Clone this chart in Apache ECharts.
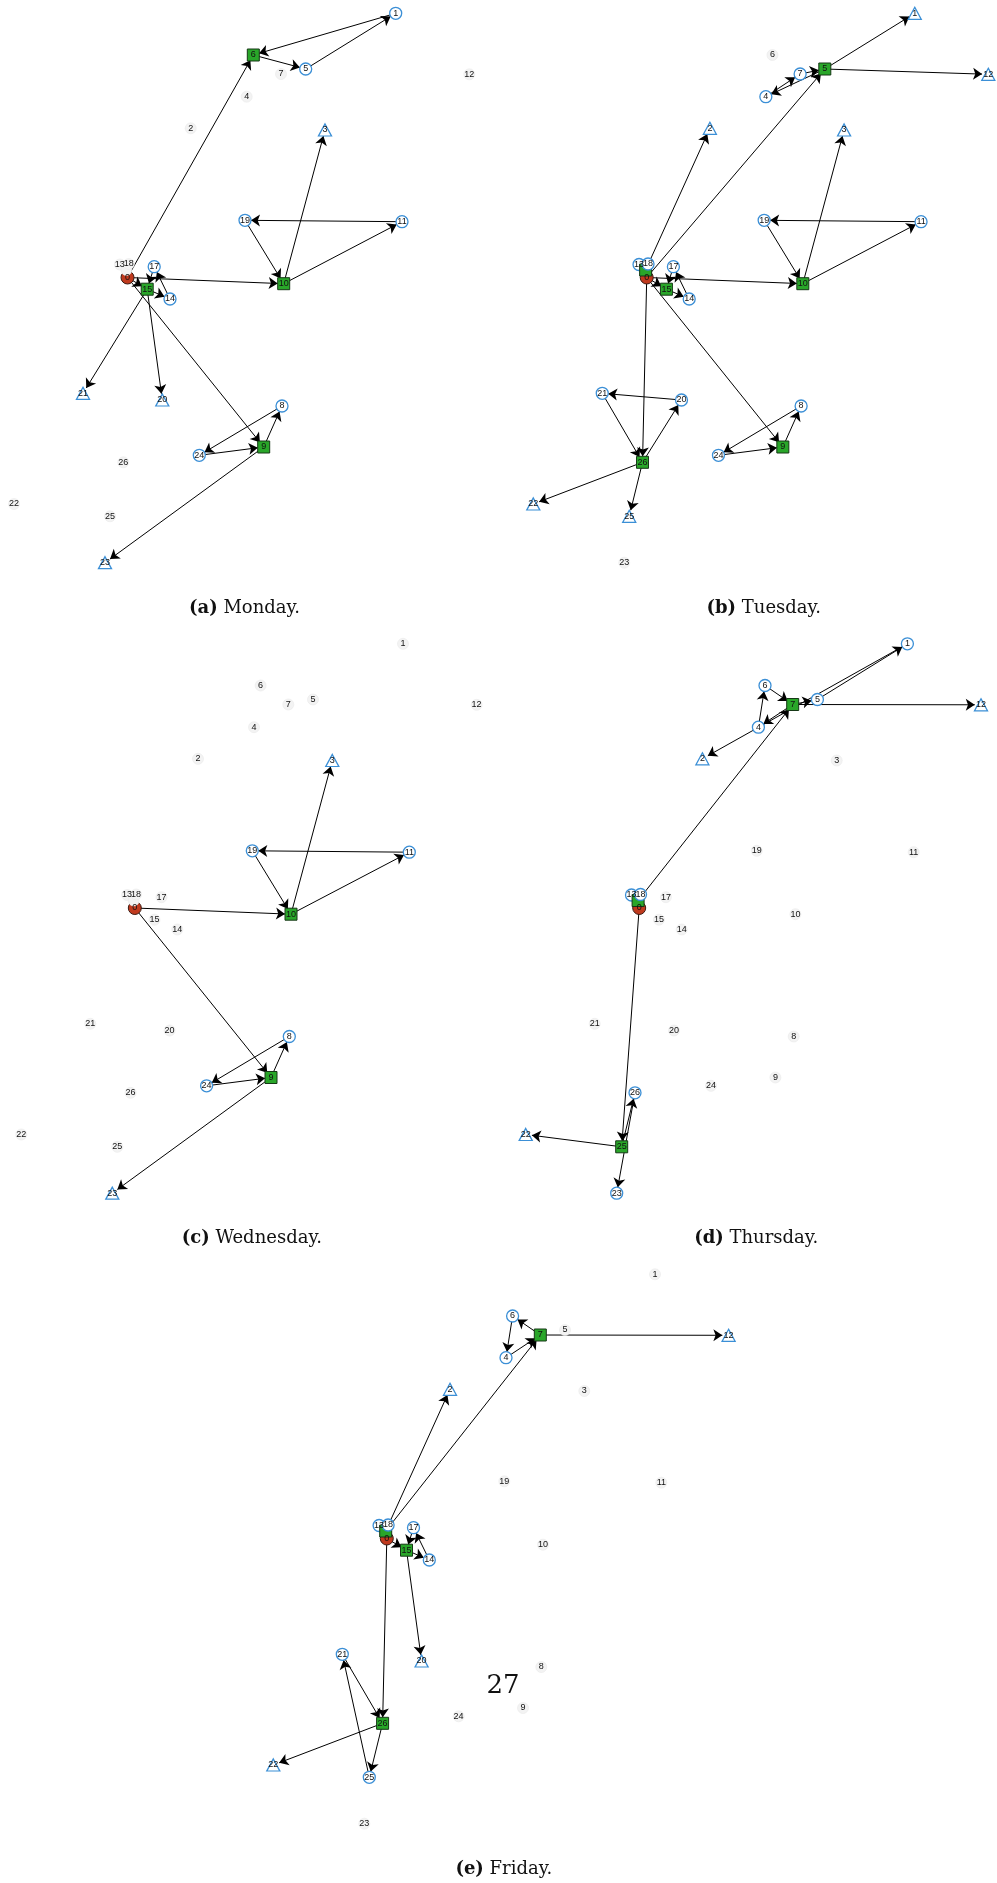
<!DOCTYPE html>
<html>
<head>
<meta charset="utf-8">
<script src="https://cdn.jsdelivr.net/npm/echarts@6/dist/echarts.min.js"></script>
<style>
  html, body { margin: 0; padding: 0; background: #ffffff; }
  #chart { width: 997px; height: 1883px; }
</style>
</head>
<body>
<div id="chart"></div>
<script>
// Shared node layout (same positions on every day), layout units
const nodeNames = ['0','1','2','3','4','5','6','7','8','9','10','11','12','13',
  '14','15','16','17','18','19','20','21','22','23','24','25','26'];
const nodeX = [127.5, 395.7, 190.7, 325.0, 246.7, 305.7, 253.3, 281.0, 282.0, 263.7,
  283.7, 402.0, 469.3, 119.8, 170.0, 147.2, 126.4, 154.2, 128.8, 245.0,
  162.3, 83.0, 14.0, 105.0, 199.3, 110.0, 123.3];
const nodeY = [277.5, 13.3, 128.3, 130.0, 96.7, 69.0, 55.0, 74.0, 406.0, 447.0,
  283.7, 221.7, 74.3, 264.5, 299.0, 289.2, 270.0, 266.7, 264.0, 220.3,
  400.0, 393.3, 504.0, 562.7, 455.3, 516.3, 462.3];

// Node 16 sits underneath nodes 0 and 18, so its number is never readable
const hiddenLabelNodes = [16];

// Days and their sub-figure tags
const dayNames = ['Monday', 'Tuesday', 'Wednesday', 'Thursday', 'Friday'];
const dayTags = ['(a)', '(b)', '(c)', '(d)', '(e)'];

// Node 0 is the central hub on every day
const hubNode = 0;

// Monday
const mondayDepots = [6, 9, 10, 15];
const mondayCustomers = [1, 5, 8, 11, 14, 17, 19, 24];
const mondayTerminals = [3, 20, 21, 23];
const mondayLinks = [[0, 6], [6, 5], [5, 1], [1, 6], [0, 10], [10, 3], [10, 11], [11, 19],
  [19, 10], [0, 15], [17, 15], [15, 14], [14, 17], [15, 21], [15, 20], [0, 9], [9, 8],
  [8, 24], [24, 9], [9, 23]];

// Tuesday
const tuesdayDepots = [5, 9, 10, 15, 16, 26];
const tuesdayCustomers = [4, 7, 8, 11, 13, 14, 17, 18, 19, 20, 21, 24];
const tuesdayTerminals = [1, 2, 3, 12, 22, 25];
const tuesdayLinks = [[16, 2], [0, 5], [5, 1], [5, 12], [5, 4], [4, 7], [7, 5], [0, 10],
  [10, 3], [10, 11], [11, 19], [19, 10], [0, 15], [17, 15], [15, 14], [14, 17], [0, 26],
  [26, 20], [20, 21], [21, 26], [26, 22], [26, 25], [0, 9], [9, 8], [8, 24], [24, 9]];

// Wednesday
const wednesdayDepots = [9, 10];
const wednesdayCustomers = [8, 11, 19, 24];
const wednesdayTerminals = [3, 23];
const wednesdayLinks = [[0, 10], [10, 3], [10, 11], [11, 19], [19, 10], [0, 9], [9, 8],
  [8, 24], [24, 9], [9, 23]];

// Thursday
const thursdayDepots = [7, 16, 25];
const thursdayCustomers = [1, 4, 5, 6, 13, 18, 23, 26];
const thursdayTerminals = [2, 12, 22];
const thursdayLinks = [[16, 7], [7, 5], [5, 1], [1, 2], [7, 4], [4, 6], [6, 7], [7, 12],
  [0, 25], [25, 26], [26, 23], [25, 22]];

// Friday
const fridayDepots = [7, 15, 16, 26];
const fridayCustomers = [4, 6, 13, 14, 17, 18, 21, 25];
const fridayTerminals = [2, 12, 20, 22];
const fridayLinks = [[16, 2], [16, 7], [7, 6], [6, 4], [4, 7], [7, 12], [0, 15], [17, 15],
  [15, 14], [14, 17], [15, 20], [0, 26], [26, 25], [25, 21], [21, 26], [26, 22]];

const pageNumber = '27';

const days = [
  { depots: mondayDepots, customers: mondayCustomers, terminals: mondayTerminals, links: mondayLinks },
  { depots: tuesdayDepots, customers: tuesdayCustomers, terminals: tuesdayTerminals, links: tuesdayLinks },
  { depots: wednesdayDepots, customers: wednesdayCustomers, terminals: wednesdayTerminals, links: wednesdayLinks },
  { depots: thursdayDepots, customers: thursdayCustomers, terminals: thursdayTerminals, links: thursdayLinks },
  { depots: fridayDepots, customers: fridayCustomers, terminals: fridayTerminals, links: fridayLinks }
];

// Panel placement on the page
const panelLeft = [0, 519.3, 7.3, 511.7, 259.3];
const panelTop = [0, 0, 630.5, 630.5, 1261];
const panelW = 478, panelH = 620;

const BLUE = '#3b8fd6';
const roleStyle = {
  hub:      { symbol: 'circle',   symbolSize: 13, itemStyle: { color: '#c03a1e', borderColor: '#3b1a12', borderWidth: 1 } },
  depot:    { symbol: 'rect',     symbolSize: 12, itemStyle: { color: '#29a629', borderColor: '#163816', borderWidth: 1 } },
  customer: { symbol: 'circle',   symbolSize: 12, itemStyle: { color: '#ffffff', borderColor: BLUE, borderWidth: 1.3 } },
  terminal: { symbol: 'triangle', symbolSize: [13, 12], itemStyle: { color: '#ffffff', borderColor: BLUE, borderWidth: 1.3 } },
  idle:     { symbol: 'circle',   symbolSize: 11, itemStyle: { color: '#f3f3f3', borderColor: '#e9e9e9', borderWidth: 0.6 } }
};

function buildNodes(day) {
  return nodeNames.map(function (name, i) {
    let role = 'idle';
    if (i === hubNode) role = 'hub';
    else if (day.depots.includes(i)) role = 'depot';
    else if (day.customers.includes(i)) role = 'customer';
    else if (day.terminals.includes(i)) role = 'terminal';
    const st = roleStyle[role];
    const node = {
      name: name,
      value: [nodeX[i], nodeY[i]],
      symbol: st.symbol,
      symbolSize: st.symbolSize,
      itemStyle: st.itemStyle
    };
    if (hiddenLabelNodes.includes(i)) node.label = { show: false };
    return node;
  });
}

const grids = [], xAxes = [], yAxes = [], series = [], graphics = [];
days.forEach(function (day, k) {
  grids.push({ left: panelLeft[k], top: panelTop[k], width: panelW, height: panelH, containLabel: false });
  xAxes.push({ type: 'value', gridIndex: k, min: 0, max: panelW, show: false, splitLine: { show: false } });
  yAxes.push({ type: 'value', gridIndex: k, min: 0, max: panelH, inverse: true, show: false, splitLine: { show: false } });
  series.push({
    type: 'graph',
    layout: 'none',
    coordinateSystem: 'cartesian2d',
    xAxisIndex: k,
    yAxisIndex: k,
    silent: true,
    animation: false,
    data: buildNodes(day),
    links: day.links.map(function (l) { return { source: l[0], target: l[1] }; }),
    edgeSymbol: ['none', 'arrow'],
    edgeSymbolSize: [0, 9],
    lineStyle: { color: '#000000', width: 1, opacity: 1, curveness: 0 },
    label: {
      show: true,
      position: 'inside',
      fontSize: 9,
      fontFamily: 'Liberation Sans, Arial, sans-serif',
      color: '#111111',
      formatter: '{b}'
    },
    emphasis: { disabled: true }
  });
  graphics.push({
    type: 'text',
    x: panelLeft[k] + 244.5,
    y: panelTop[k] + 608,
    silent: true,
    style: {
      text: '{t|' + dayTags[k] + '} ' + dayNames[k] + '.',
      font: '18px "DejaVu Serif", serif',
      fill: '#111111',
      align: 'center',
      verticalAlign: 'middle',
      rich: {
        t: { font: 'bold 18px "DejaVu Serif", serif', fill: '#111111' }
      }
    }
  });
});

graphics.push({
  type: 'text',
  x: 503,
  y: 1686,
  silent: true,
  style: {
    text: pageNumber,
    font: '26px "DejaVu Serif", serif',
    fill: '#111111',
    align: 'center',
    verticalAlign: 'middle'
  }
});

const chart = echarts.init(document.getElementById('chart'), null, { renderer: 'canvas' });
chart.setOption({
  backgroundColor: '#ffffff',
  animation: false,
  grid: grids,
  xAxis: xAxes,
  yAxis: yAxes,
  series: series,
  graphic: graphics
});
</script>
</body>
</html>
